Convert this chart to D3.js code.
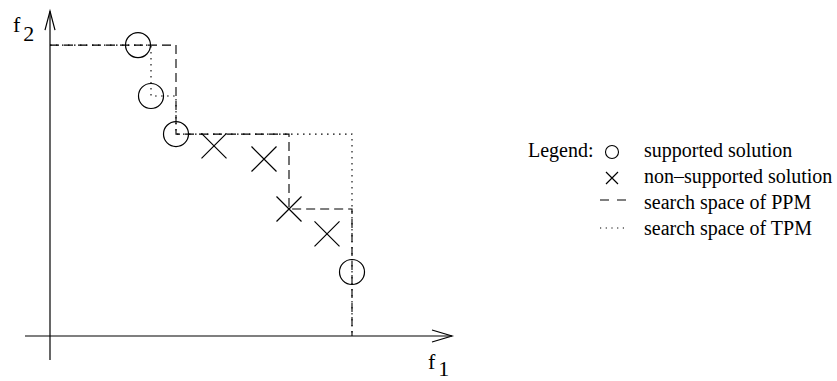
<!DOCTYPE html>
<html>
<head>
<meta charset="utf-8">
<script src="https://cdn.jsdelivr.net/npm/d3@7"></script>
<style>
  html,body{margin:0;padding:0;background:#fff;}
  svg text{font-family:"Liberation Serif","Times New Roman","DejaVu Serif",serif;fill:#000;}
</style>
</head>
<body>
<svg id="chart" width="837" height="381"></svg>
<script>
// objective space, arbitrary units (f1 right, f2 up)
var supported   = [[22,90.9],[25.25,75],[31.5,63.1],[75.5,20]];
var nonSupported= [[41,59.4],[53.5,55.3],[59.75,39.7],[69.25,31.9]];
// search space outlines
var ppmPath = [[0,90.9],[31.5,90.9],[31.5,63.1],[59.75,63.1],[59.75,39.7],[75.5,39.7],[75.5,0]];
var tpmPath = [[0,90.9],[25.25,90.9],[25.25,75],[31.5,75],[31.5,63.1],[75.5,63.1],[75.5,0]];
// axis extents
var xAxisExt = [-6.25,100.5];
var yAxisExt = [-7.5,101.5];
var legendItems = ['supported solution','non\u2013supported solution','search space of PPM','search space of TPM'];

var svg=d3.select('#chart');
var x=d3.scaleLinear().domain([0,100]).range([50,450]);
var y=d3.scaleLinear().domain([0,100]).range([336,16]);

var DASH='9,5', DOT='1.5,4.5';
var line=d3.line().x(function(d){return x(d[0])}).y(function(d){return y(d[1])});

// axes
var ax=svg.append('g').attr('stroke','#000').attr('stroke-width',1.2).attr('fill','none');
ax.append('line').attr('x1',x(xAxisExt[0])).attr('x2',x(xAxisExt[1])).attr('y1',y(0)).attr('y2',y(0));
ax.append('path').attr('d','M'+(x(xAxisExt[1])-20)+','+(y(0)-6)+'L'+x(xAxisExt[1])+','+y(0)+'L'+(x(xAxisExt[1])-20)+','+(y(0)+6));
ax.append('line').attr('x1',x(0)).attr('x2',x(0)).attr('y1',y(yAxisExt[0])).attr('y2',y(yAxisExt[1]));
ax.append('path').attr('d','M'+(x(0)-5)+','+(y(yAxisExt[1])+19)+'L'+x(0)+','+y(yAxisExt[1])+'L'+(x(0)+5)+','+(y(yAxisExt[1])+19));

// axis labels
var l2=svg.append('text').attr('x',13).attr('y',32).attr('font-size','22px');
l2.append('tspan').text('f');
l2.append('tspan').attr('dx',3).attr('dy',9).text('2');
var l1=svg.append('text').attr('x',428).attr('y',369).attr('font-size','22px');
l1.append('tspan').text('f');
l1.append('tspan').attr('dx',3).attr('dy',7).text('1');

// search spaces
svg.append('path').attr('d',line(ppmPath)).attr('fill','none').attr('stroke','#000')
  .attr('stroke-width',1.1).attr('stroke-dasharray',DASH);
svg.append('path').attr('d',line(tpmPath)).attr('fill','none').attr('stroke','#000')
  .attr('stroke-width',1.1).attr('stroke-dasharray',DOT);

// solutions
svg.selectAll('circle.sup').data(supported).enter().append('circle').attr('class','sup')
  .attr('cx',function(d){return x(d[0])}).attr('cy',function(d){return y(d[1])})
  .attr('r',12.5).attr('fill','none').attr('stroke','#000').attr('stroke-width',1.2);

function cross(g,cx,cy,h){
  g.append('path').attr('d','M'+(cx-h)+','+(cy-h)+'L'+(cx+h)+','+(cy+h)+'M'+(cx-h)+','+(cy+h)+'L'+(cx+h)+','+(cy-h))
    .attr('stroke','#000').attr('stroke-width',1.2).attr('fill','none');
}
nonSupported.forEach(function(d){cross(svg,x(d[0]),y(d[1]),12.5)});

// legend
var lg=svg.append('g');
var lx=612, tx=644, b0=157, step=26;
lg.append('text').attr('x',528).attr('y',b0).attr('font-size','20px').text('Legend:');
legendItems.forEach(function(t,i){
  lg.append('text').attr('x',tx).attr('y',b0+i*step).attr('font-size','20px').text(t);
});
lg.append('circle').attr('cx',lx).attr('cy',b0-5).attr('r',6.5).attr('fill','none').attr('stroke','#000').attr('stroke-width',1.1);
cross(lg,lx,b0+step-5,6);
lg.append('line').attr('x1',lx-12).attr('x2',lx+14).attr('y1',b0+2*step-9).attr('y2',b0+2*step-9)
  .attr('stroke','#000').attr('stroke-width',1.1).attr('stroke-dasharray','9,8');
lg.append('line').attr('x1',lx-12).attr('x2',lx+14).attr('y1',b0+3*step-7).attr('y2',b0+3*step-7)
  .attr('stroke','#000').attr('stroke-width',1.1).attr('stroke-dasharray','1.2,4.5');
</script>
</body>
</html>
